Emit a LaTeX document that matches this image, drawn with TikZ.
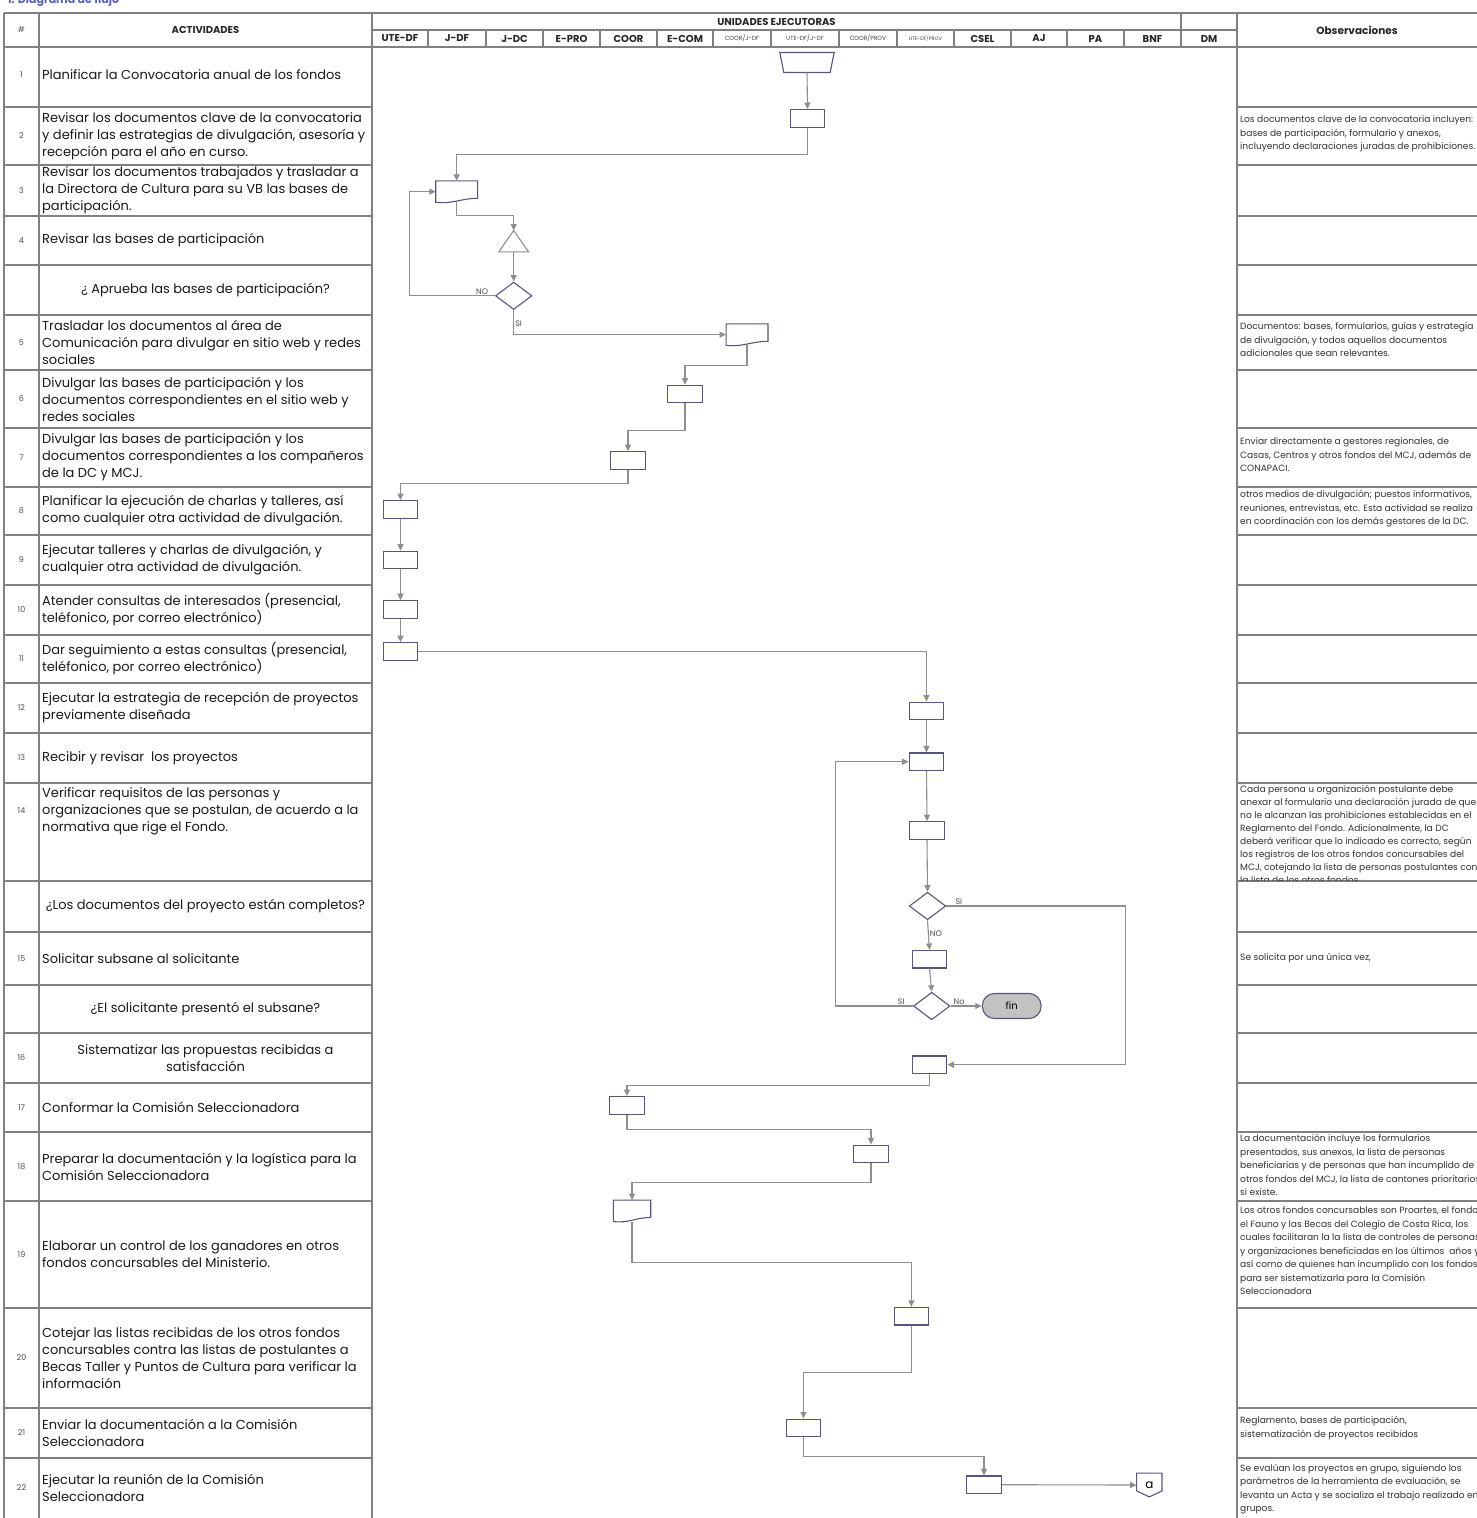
\documentclass[tikz,border=0pt]{standalone}
\usepackage{fontspec}
\setmainfont{Poppins}
\usetikzlibrary{arrows.meta,shapes.geometric}

\definecolor{tabgray}{HTML}{808080}
\definecolor{shapeline}{HTML}{56567C}
\definecolor{flowgray}{HTML}{8E8E8E}
\definecolor{titleblue}{HTML}{5A62B2}
\definecolor{fingray}{HTML}{C2C2C2}

\tikzset{
  tabline/.style={draw=tabgray, line width=2.2pt},
  shp/.style={draw=shapeline, line width=1.1pt},
  proc/.style={shp, minimum width=34.5pt, minimum height=17.5pt, inner sep=0pt},
  dec/.style={shp, diamond, minimum width=36.5pt, minimum height=27.5pt, inner sep=0pt},
  docbox/.style={minimum width=41.5pt, minimum height=21pt, inner sep=0pt},
  trapbox/.style={minimum width=54pt, minimum height=19.6pt, inner sep=0pt},
  tribox/.style={minimum width=29.3pt, minimum height=21pt, inner sep=0pt},
  finbox/.style={shp, fill=fingray, rounded corners=12pt, minimum width=58.7pt, minimum height=25pt, font=\fontsize{10}{12}\selectfont},
  offpage/.style={minimum width=25pt, minimum height=23.4pt, inner sep=0pt, font=\fontsize{12}{14}\selectfont},
  flow/.style={draw=flowgray, line width=1.1pt, -{Triangle[length=6.5pt,width=6pt]}},
  lbl/.style={font=\fontsize{8}{9}\selectfont, text=black!70, inner sep=1pt},
  act/.style={anchor=west, align=left, inner sep=0pt, text=black!90, font=\fontsize{13}{17}\selectfont},
  actc/.style={align=center, inner sep=0pt, text=black!90, font=\fontsize{13}{17}\selectfont},
  obs/.style={anchor=west, align=left, inner sep=0pt, text=black!80, font=\fontsize{9.1}{13.5}\selectfont},
  num/.style={text=black!70, font=\fontsize{8}{9}\selectfont},
  head/.style={text=black!85, font=\bfseries\fontsize{10}{12}\selectfont},
  unitsm/.style={text=black!75, font=\fontsize{6}{7}\selectfont},
}

% document shape, trapezium, triangle and off-page outline round a box node
\def\docshape#1{\draw[shp] (#1.north west) -- (#1.north east) -- ([yshift=4pt]#1.south east) .. controls +(-16pt,0pt) and +(16pt,-2pt) .. (#1.south west) -- cycle;}
\def\trapshape#1{\draw[shp] (#1.north west) -- (#1.north east) -- ([xshift=-4pt]#1.south east) -- ([xshift=4pt]#1.south west) -- cycle;}
\def\trishape#1{\draw[draw=flowgray, line width=1.1pt] (#1.north) -- (#1.south east) -- (#1.south west) -- cycle;}
\def\offshape#1{\draw[shp] (#1.north west) -- (#1.north east) -- ([yshift=6pt]#1.south east) -- (#1.south) -- ([yshift=6pt]#1.south west) -- cycle;}

\begin{document}
\begin{tikzpicture}[x=1pt, y=-1pt]
  \useasboundingbox (0,0) rectangle (1477,1518);
  %%%%% START %%%%%

  \node[anchor=base west, text=titleblue, font=\bfseries\fontsize{11}{13}\selectfont] (title) at (4,3) {1. Diagrama de flujo};

  % table frame
  \draw[tabline] (4,13) -- (1477,13);
  \draw[tabline] (4,47) -- (1477,47);
  \draw[tabline] (372,30) -- (1237,30);
  \foreach \x in {4,39,372,1237} \draw[tabline] (\x,13) -- (\x,1518);
  \draw[tabline] (1181,13) -- (1181,47);
  \foreach \x in {428,486,543,600,657,713,771,839,897,954,1011,1067,1124} \draw[tabline] (\x,30) -- (\x,47);
  \foreach \y in {107,165,216,265,315,370,428,487,535,585,635,683,733,783,881,932,985,1033,1083,1132,1201,1308,1408,1458} {
    \draw[tabline] (4,\y) -- (372,\y);
    \draw[tabline] (1237,\y) -- (1477,\y);
  }

  % header
  \node[num] (hnum) at (21.5,30) {\#};
  \node[head] (hact) at (205.5,30) {ACTIVIDADES};
  \node[head] (hunits) at (776.5,21.5) {UNIDADES EJECUTORAS};
  \node[head, font=\bfseries\fontsize{10.5}{12}\selectfont] (hobs) at (1357,30) {Observaciones};
  \node[head] (u1) at (400,38.5) {UTE-DF};
  \node[head] (u2) at (457,38.5) {J-DF};
  \node[head] (u3) at (514.5,38.5) {J-DC};
  \node[head] (u4) at (571.5,38.5) {E-PRO};
  \node[head] (u5) at (628.5,38.5) {COOR};
  \node[head] (u6) at (685,38.5) {E-COM};
  \node[unitsm] (u7) at (742,38.5) {COOR/J-DF};
  \node[unitsm] (u8) at (805,38.5) {UTE-DF/J-DF};
  \node[unitsm] (u9) at (868,38.5) {COOR/PROV};
  \node[unitsm, font=\fontsize{5}{6}\selectfont] (u10) at (925.5,38.5) {UTE-DF/PROV};
  \node[head] (u11) at (982.5,38.5) {CSEL};
  \node[head] (u12) at (1039,38.5) {AJ};
  \node[head] (u13) at (1095.5,38.5) {PA};
  \node[head] (u14) at (1152.5,38.5) {BNF};
  \node[head] (u15) at (1209,38.5) {DM};

  % activities
  \node[num] (n1) at (21.5,75) {1};
  \node[act] (a1) at (42,75) {Planificar la Convocatoria anual de los fondos};
  \node[num] (n2) at (21.5,136) {2};
  \node[act] (a2) at (42,136) {Revisar los documentos clave de la convocatoria\\y definir las estrategias de divulgación, asesoría y\\recepción para el año en curso.};
  \node[num] (n3) at (21.5,190.5) {3};
  \node[act] (a3) at (42,190.5) {Revisar los documentos trabajados y trasladar a\\la Directora de Cultura para su VB las bases de\\participación.};
  \node[num] (n4) at (21.5,240.5) {4};
  \node[act] (a4) at (42,240.5) {Revisar las bases de participación};
  \node[actc] (aA) at (205.5,290) {¿ Aprueba las bases de participación?};
  \node[num] (n5) at (21.5,342.5) {5};
  \node[act] (a5) at (42,342.5) {Trasladar los documentos al área de\\Comunicación para divulgar en sitio web y redes\\sociales};
  \node[num] (n6) at (21.5,399) {6};
  \node[act] (a6) at (42,399) {Divulgar las bases de participación y los\\documentos correspondientes en el sitio web y\\redes sociales};
  \node[num] (n7) at (21.5,457.5) {7};
  \node[act] (a7) at (42,457.5) {Divulgar las bases de participación y los\\documentos correspondientes a los compañeros\\de la DC y MCJ.};
  \node[num] (n8) at (21.5,511) {8};
  \node[act] (a8) at (42,511) {Planificar la ejecución de charlas y talleres, así\\como cualquier otra actividad de divulgación.};
  \node[num] (n9) at (21.5,560) {9};
  \node[act] (a9) at (42,560) {Ejecutar talleres y charlas de divulgación, y\\cualquier otra actividad de divulgación.};
  \node[num] (n10) at (21.5,610) {10};
  \node[act] (a10) at (42,610) {Atender consultas de interesados (presencial,\\teléfonico, por correo electrónico)};
  \node[num] (n11) at (21.5,659) {11};
  \node[act] (a11) at (42,659) {Dar seguimiento a estas consultas (presencial,\\teléfonico, por correo electrónico)};
  \node[num] (n12) at (21.5,708) {12};
  \node[act] (a12) at (42,708) {Ejecutar la estrategia de recepción de proyectos\\previamente diseñada};
  \node[num] (n13) at (21.5,758) {13};
  \node[act] (a13) at (42,758) {Recibir y revisar~ los proyectos};
  \node[num] (n14) at (21.5,811) {14};
  \node[act] (a14) at (42,811) {Verificar requisitos de las personas y\\organizaciones que se postulan, de acuerdo a la\\normativa que rige el Fondo.};
  \node[actc] (aB) at (205.5,906.5) {¿Los documentos del proyecto están completos?};
  \node[num] (n15) at (21.5,958.5) {15};
  \node[act] (a15) at (42,958.5) {Solicitar subsane al solicitante};
  \node[actc] (aC) at (205.5,1009) {¿El solicitante presentó el subsane?};
  \node[num] (n16) at (21.5,1058) {16};
  \node[actc] (a16) at (205.5,1058) {Sistematizar las propuestas recibidas a\\satisfacción};
  \node[num] (n17) at (21.5,1107.5) {17};
  \node[act] (a17) at (42,1107.5) {Conformar la Comisión Seleccionadora};
  \node[num] (n18) at (21.5,1166.5) {18};
  \node[act] (a18) at (42,1166.5) {Preparar la documentación y la logística para la\\Comisión Seleccionadora};
  \node[num] (n19) at (21.5,1254.5) {19};
  \node[act] (a19) at (42,1254.5) {Elaborar un control de los ganadores en otros\\fondos concursables del Ministerio.};
  \node[num] (n20) at (21.5,1358) {20};
  \node[act] (a20) at (42,1358) {Cotejar las listas recibidas de los otros fondos\\concursables contra las listas de postulantes a\\Becas Taller y Puntos de Cultura para verificar la\\información};
  \node[num] (n21) at (21.5,1433) {21};
  \node[act] (a21) at (42,1433) {Enviar la documentación a la Comisión\\Seleccionadora};
  \node[num] (n22) at (21.5,1488) {22};
  \node[act] (a22) at (42,1488) {Ejecutar la reunión de la Comisión\\Seleccionadora};

  % observations
  \node[obs] (o2) at (1240,134) {Los documentos clave de la convocatoria incluyen:\\bases de participación, formulario y anexos,\\incluyendo declaraciones juradas de prohibiciones.};
  \node[obs] (o5) at (1240,341) {Documentos: bases, formularios, guías y estrategia\\de divulgación, y todos aquellos documentos\\adicionales que sean relevantes.};
  \node[obs] (o7) at (1240,455) {Enviar directamente a gestores regionales, de\\Casas, Centros y otros fondos del MCJ, además de\\CONAPACI.};
  \node[obs] (o8) at (1240,509) {otros medios de divulgación; puestos informativos,\\reuniones, entrevistas, etc. Esta actividad se realiza\\en coordinación con los demás gestores de la DC.};
  \begin{scope}
    \clip (1238,784) rectangle (1477,880);
    \node[obs, anchor=north west, font=\fontsize{9.1}{13}\selectfont] (o14) at (1240,785) {Cada persona u organización postulante debe\\anexar al formulario una declaración jurada de que\\no le alcanzan las prohibiciones establecidas en el\\Reglamento del Fondo. Adicionalmente, la DC\\deberá verificar que lo indicado es correcto, según\\los registros de los otros fondos concursables del\\MCJ, cotejando la lista de personas postulantes con\\la lista de los otros fondos};
  \end{scope}
  \node[obs] (o15) at (1240,958.5) {Se solicita por una única vez,};
  \node[obs] (o18) at (1240,1165) {La documentación incluye los formularios\\presentados, sus anexos, la lista de personas\\beneficiarias y de personas que han incumplido de\\otros fondos del MCJ, la lista de cantones prioritarios\\si existe.};
  \node[obs] (o19) at (1240,1251) {Los otros fondos concursables son Proartes, el fondo\\el Fauno y las Becas del Colegio de Costa Rica, los\\cuales facilitaran la la lista de controles de personas\\y organizaciones beneficiadas en los últimos~ años y\\así como de quienes han incumplido con los fondos\\para ser sistematizarla para la Comisión\\Seleccionadora};
  \node[obs] (o21) at (1240,1428) {Reglamento, bases de participación,\\sistematización de proyectos recibidos};
  \node[obs] (o22) at (1240,1489) {Se evalúan los proyectos en grupo, siguiendo los\\parámetros de la herramienta de evaluación, se\\levanta un Acta y se socializa el trabajo realizado en\\grupos.};

  % flow shapes
  \node[trapbox] (trap1) at (807,62.5) {};
  \trapshape{trap1}
  \node[proc] (p2) at (807.5,118.3) {};
  \node[docbox] (doc3) at (456.7,191.6) {};
  \docshape{doc3}
  \node[tribox] (tri4) at (513.7,241.2) {};
  \trishape{tri4}
  \node[dec] (decA) at (513.7,295.8) {};
  \node[docbox] (doc5) at (747,334.6) {};
  \docshape{doc5}
  \node[proc] (p6) at (685,394) {};
  \node[proc] (p7) at (628,460.5) {};
  \node[proc] (p8) at (400.5,509.5) {};
  \node[proc] (p9) at (400.5,560) {};
  \node[proc] (p10) at (400.5,609.5) {};
  \node[proc] (p11) at (400.5,651.5) {};
  \node[proc] (p12) at (926.5,710.8) {};
  \node[proc] (p13) at (926.5,761.7) {};
  \node[proc] (p14) at (927,830.5) {};
  \node[dec] (decB) at (927.5,906) {};
  \node[proc] (p15) at (929.5,959.2) {};
  \node[dec] (decC) at (931.7,1006) {};
  \node[finbox] (fin) at (1011.7,1006) {fin};
  \node[proc] (p16) at (929.6,1064.7) {};
  \node[proc] (p17) at (627,1105.3) {};
  \node[proc] (p18) at (871,1153.8) {};
  \node[docbox, minimum width=37pt] (doc19) at (632,1210.8) {};
  \docshape{doc19}
  \node[proc] (p20) at (911.4,1316.2) {};
  \node[proc] (p21) at (803.5,1427.8) {};
  \node[proc] (p22) at (984,1484.7) {};
  \node[offpage] (conA) at (1149.3,1485) {a};
  \offshape{conA}

  % connectors
  \draw[flow] (trap1.south) -- (p2.north);
  \draw[flow] (p2.south) -- ++(0,26.7) -| (doc3.north);
  \draw[flow] (doc3.south) -- ++(0,13.5) -| (tri4.north);
  \draw[flow] (tri4.south) -- (decA.north);
  \draw[flow] (decA.west) -- node[lbl, pos=0.15, above] (lno1) {NO} ++(-85.3,0) |- (doc3.west);
  \draw[flow] (decA.south) |- node[lbl, pos=0.28, right] (lsi1) {SI} (doc5.west);
  \draw[flow] (doc5.south) -- ++(0,20) -| (p6.north);
  \draw[flow] (p6.south) -- ++(0,27) -| (p7.north);
  \draw[flow] (p7.south) -- ++(0,14) -| (p8.north);
  \draw[flow] (p8.south) -- (p9.north);
  \draw[flow] (p9.south) -- (p10.north);
  \draw[flow] (p10.south) -- (p11.north);
  \draw[flow] (p11.east) -| (p12.north);
  \draw[flow] (p12.south) -- (p13.north);
  \draw[flow] (p13.south) -- (p14.north);
  \draw[flow] (p14.south) -- (decB.north);
  \draw[flow] (decB.east) -- node[lbl, pos=0.07, above] (lsi2) {SI} ++(179.6,0) |- (p16.east);
  \draw[flow] (decB.south) -- node[lbl, pos=0.45, right] (lno2) {NO} (p15.north);
  \draw[flow] (p15.south) -- (decC.north);
  \draw[flow] (decC.east) -- node[lbl, pos=0.05, above right] (lno3) {No} (fin.west);
  \draw[flow] (decC.west) -- node[lbl, pos=0.15, above] (lsi3) {SI} ++(-77.6,0) |- (p13.west);
  \draw[flow] (p16.south) -- ++(0,11.7) -| (p17.north);
  \draw[flow] (p17.south) -- ++(0,15.3) -| (p18.north);
  \draw[flow] (p18.south) -- ++(0,19) -| (doc19.north);
  \draw[flow] (doc19.south) -- ++(0,40.6) -| (p20.north);
  \draw[flow] (p20.south) -- ++(0,46.7) -| (p21.north);
  \draw[flow] (p21.south) -- ++(0,19.3) -| (p22.north);
  \draw[flow] (p22.east) -- (conA.west);

  %%%%% END %%%%%
\end{tikzpicture}
\end{document}
